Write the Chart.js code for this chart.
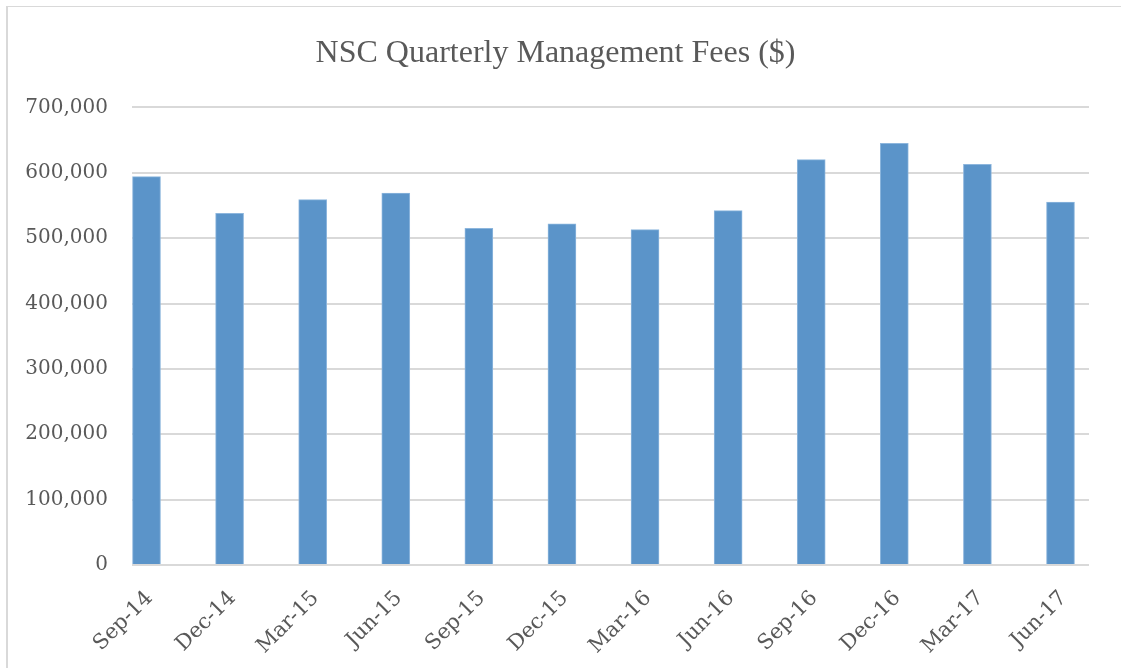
<!DOCTYPE html>
<html>
<head>
<meta charset="utf-8">
<script src="https://cdn.jsdelivr.net/npm/chart.js@4/dist/chart.umd.min.js"></script>
<style>
  body { margin: 0; background: #ffffff; }
  #frame {
    position: absolute; left: 6px; top: 6px; width: 1200px; height: 800px;
    border-left: 2px solid #d9d9d9; border-top: 1px solid #d9d9d9;
  }
  #wrap { position: absolute; left: 0; top: 0; width: 1121px; height: 668px; }
</style>
</head>
<body>
<div id="frame"></div>
<div id="wrap"><canvas id="feesChart" width="1121" height="668"></canvas></div>
<script>
var quarters = ["Sep-14", "Dec-14", "Mar-15", "Jun-15", "Sep-15", "Dec-15",
  "Mar-16", "Jun-16", "Sep-16", "Dec-16", "Mar-17", "Jun-17"];
var fees = [594000, 538000, 559000, 569000, 515000, 522000,
  513000, 542000, 620000, 645000, 613000, 555000];
var yMax = 700000;
var yStep = 100000;

window.onload = function () {
  var points = fees.map(function (v, i) {
    return { x: i, y: v };
  });

  var canvas = document.getElementById("feesChart");

  var chart = new Chart(canvas, {
    type: "bar",
    data: {
      datasets: [
        {
          label: "Management Fees",
          data: points,
          backgroundColor: "#5b94c9",
          borderColor: "#8db6dd",
          borderWidth: { left: 1, right: 1, top: 1, bottom: 0 },
          barThickness: 28,
        },
      ],
    },
    options: {
      responsive: false,
      animation: false,
      // near-equal side padding keeps the title roughly centred on the page
      layout: { padding: { left: 22, right: 32, top: 0, bottom: 0 } },
      plugins: {
        legend: { display: false },
        tooltip: { enabled: false },
        title: {
          display: true,
          text: "NSC Quarterly Management Fees ($)",
          color: "#595959",
          font: { family: "'Liberation Serif', 'Times New Roman', serif", size: 32, weight: "normal" },
          padding: { top: 34, bottom: 35 },
        },
      },
      scales: {
        x: {
          type: "linear",
          offset: false,
          min: -0.1745,
          max: 11.343,
          grid: { display: false },
          border: { display: false },
          afterBuildTicks: function (scale) {
            scale.ticks = quarters.map(function (q, i) {
              return { value: i };
            });
          },
          afterFit: function (scale) {
            scale.height = 103;
          },
          ticks: {
            autoSkip: false,
            maxRotation: 45,
            minRotation: 45,
            padding: 13,
            labelOffset: 3,
            color: "#595959",
            font: { family: "'DejaVu Serif', serif", size: 21 },
            callback: function (value) {
              return quarters[value];
            },
          },
        },
        y: {
          min: 0,
          max: yMax,
          grid: { color: "#d9d9d9", lineWidth: 2, drawTicks: false },
          border: { display: false },
          afterFit: function (scale) {
            scale.width = 110;
          },
          ticks: {
            stepSize: yStep,
            padding: 24,
            color: "#595959",
            font: { family: "'DejaVu Serif', serif", size: 20 },
            callback: function (value) {
              return value.toLocaleString("en-US");
            },
          },
        },
      },
    },
  });
};
</script>
</body>
</html>
